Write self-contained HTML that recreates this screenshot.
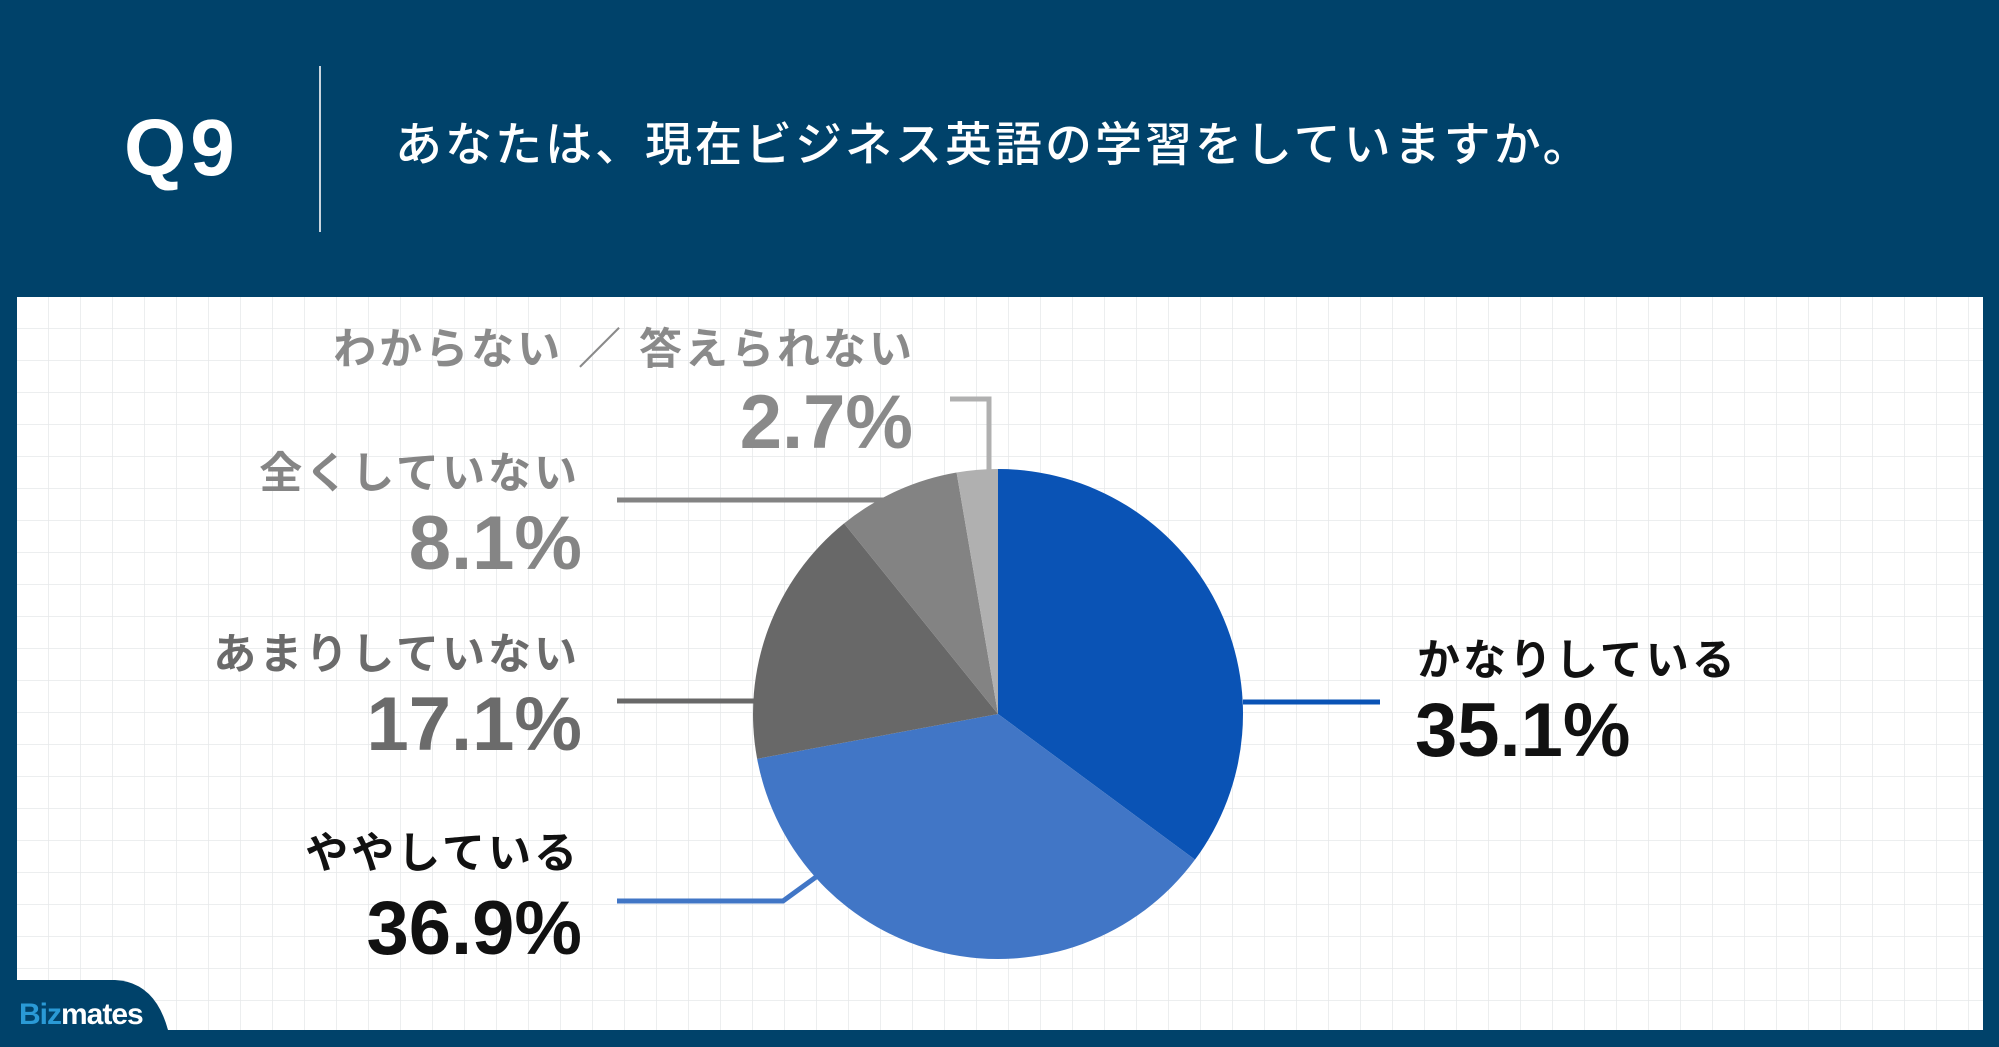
<!DOCTYPE html>
<html><head><meta charset="utf-8">
<style>
html,body{margin:0;padding:0;width:1999px;height:1047px;overflow:hidden;background:#00426a;}
svg text{font-family:"Liberation Sans","Noto Sans CJK JP",sans-serif;}
</style></head>
<body>
<svg id="chart" width="1999" height="1047" viewBox="0 0 1999 1047" xmlns="http://www.w3.org/2000/svg">
  <defs>
    <pattern id="grid" width="32" height="32" patternUnits="userSpaceOnUse" x="17" y="297">
      <path d="M32 0 V32 M0 32 H32" fill="none" stroke="#e6e8ea" stroke-width="1.5"/>
    </pattern>
  </defs>
  <rect x="0" y="0" width="1999" height="1047" fill="#00426a"/>
  <rect x="17" y="297" width="1966" height="733" fill="#ffffff"/>
  <rect x="17" y="297" width="1966" height="733" fill="url(#grid)"/>
  <text x="124" y="175" font-size="80" font-weight="700" letter-spacing="4" fill="#ffffff">Q9</text>
  <line x1="320" y1="66" x2="320" y2="232" stroke="#c8d4de" stroke-width="2"/>
  <text x="395" y="161" font-size="47" font-weight="500" letter-spacing="3" fill="#ffffff">あなたは、現在ビジネス英語の学習をしていますか。</text>

  <g id="slices"></g>
  <g id="leaders">
    <polyline points="1243,702 1380,702" fill="none" stroke="#0a53b5" stroke-width="5"/>
    <polyline points="617,901 783,901 816,877" fill="none" stroke="#4176c6" stroke-width="5"/>
    <polyline points="617,701 757,701" fill="none" stroke="#686868" stroke-width="5"/>
    <polyline points="617,500 893,500" fill="none" stroke="#838383" stroke-width="5"/>
    <polyline points="950,399 989,399 989,474" fill="none" stroke="#b0b0b0" stroke-width="5"/>
  </g>

  <g font-weight="700">
    <text x="1417" y="675" font-size="43" letter-spacing="3" fill="#111">かなりしている</text>
    <text id="pct0" x="1415" y="756" font-size="76" fill="#111"></text>
    <text x="580" y="868" font-size="43" letter-spacing="3" text-anchor="end" fill="#111">ややしている</text>
    <text id="pct1" x="582" y="954" font-size="76" text-anchor="end" fill="#111"></text>
    <text x="580" y="669" font-size="43" letter-spacing="3" text-anchor="end" fill="#6b6b6b">あまりしていない</text>
    <text id="pct2" x="582" y="750" font-size="76" text-anchor="end" fill="#6b6b6b"></text>
    <text x="580" y="488" font-size="43" letter-spacing="3" text-anchor="end" fill="#858585">全くしていない</text>
    <text id="pct3" x="582" y="569" font-size="76" text-anchor="end" fill="#858585"></text>
    <text x="915" y="364" font-size="43" letter-spacing="3" text-anchor="end" fill="#8a8a8a">わからない ／ 答えられない</text>
    <text id="pct4" x="913" y="448" font-size="76" text-anchor="end" fill="#8a8a8a"></text>
  </g>

  <path d="M17 980 H115 Q155 982 168 1030 H17 Z" fill="#00426a"/>
  <text x="19" y="1024" font-size="30" font-weight="700" letter-spacing="-1"><tspan fill="#2a9ad6">Biz</tspan><tspan fill="#ffffff">mates</tspan></text>
</svg>
<script>
const categories = ["かなりしている","ややしている","あまりしていない","全くしていない","わからない / 答えられない"];
const values = [35.1, 36.9, 17.1, 8.1, 2.7];
const colors = ["#0a53b5","#4176c6","#686868","#838383","#b0b0b0"];
const cx = 998, cy = 714, r = 245;
const total = values.reduce((a,b)=>a+b,0);
function angleOf(v){ return v/total*Math.PI*2; }
function pt(a){ return [cx + r*Math.sin(a), cy - r*Math.cos(a)]; }
const g = document.getElementById('slices');
let a0 = 0;
values.forEach((v,i)=>{
  const a1 = a0 + angleOf(v);
  const p0 = pt(a0), p1 = pt(a1);
  const large = (a1-a0) > Math.PI ? 1 : 0;
  const path = document.createElementNS('http://www.w3.org/2000/svg','path');
  path.setAttribute('d', `M${cx},${cy} L${p0[0]},${p0[1]} A${r},${r} 0 ${large} 1 ${p1[0]},${p1[1]} Z`);
  path.setAttribute('fill', colors[i]);
  
  
  g.appendChild(path);
  document.getElementById('pct'+i).textContent = v.toFixed(1) + '%';
  a0 = a1;
});
</script>
</body></html>
